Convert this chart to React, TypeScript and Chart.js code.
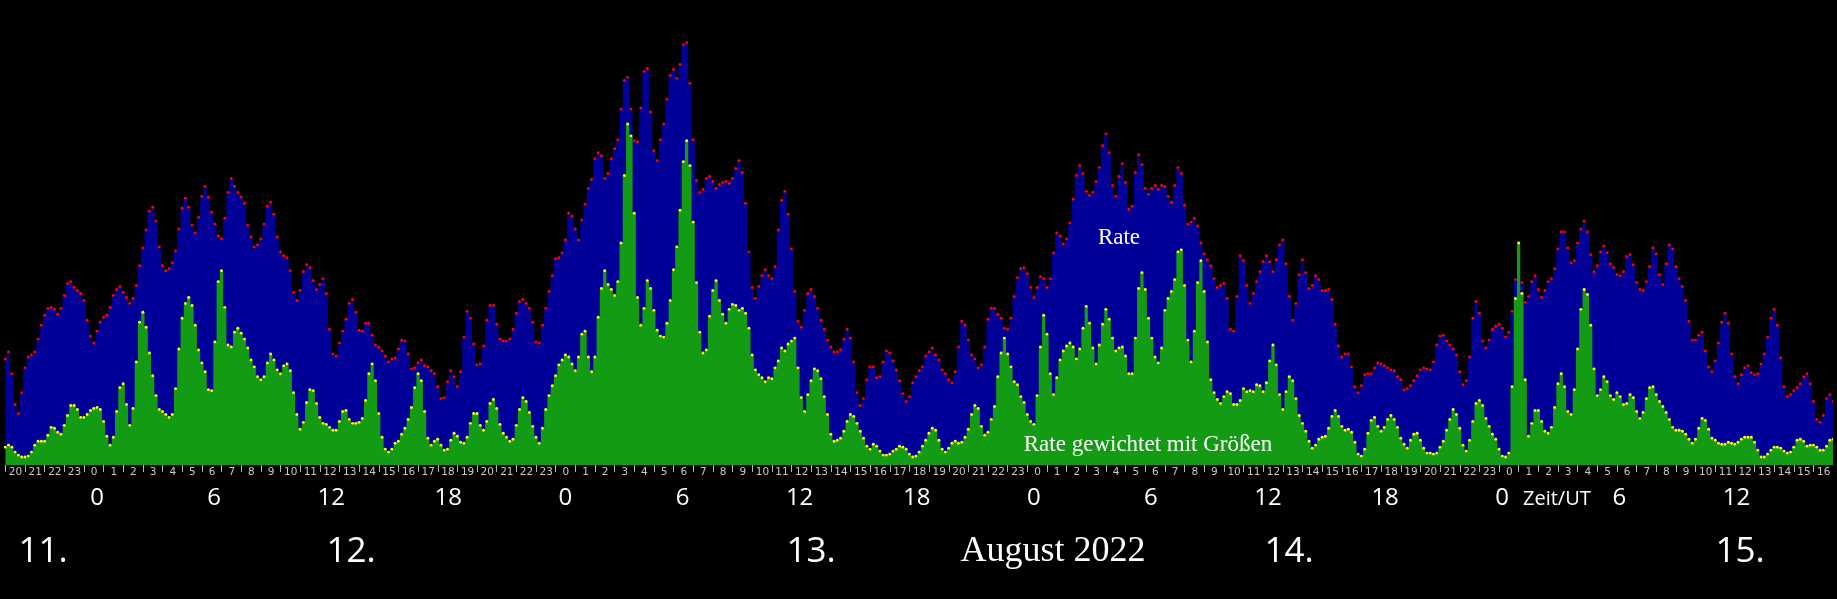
import React, { useEffect, useRef } from 'react';
import { Chart, registerables } from 'chart.js';

Chart.register(...registerables);

const W = 1837;
const H = 599;

// 10-minute bins starting 11 Aug 2022, 20:00 UT
const startHour = 20;
const binsPerHour = 6;

const rate = [
  107,114,92,61,52,73,98,109,111,114,
  127,141,151,158,159,157,152,158,171,183,
  185,179,176,173,166,146,130,123,135,144,
  149,151,159,171,177,180,174,169,163,168,
  181,201,219,237,256,260,246,220,201,196,
  198,204,216,238,259,269,260,242,234,250,
  271,281,270,255,243,231,228,249,275,289,
  281,275,270,264,242,230,220,222,228,243,
  261,265,253,230,215,211,209,196,174,166,
  176,195,202,199,186,177,182,188,173,137,
  112,110,123,135,147,163,167,154,136,135,
  143,143,131,121,119,115,110,104,107,108,
  117,126,125,112,97,98,103,106,100,99,
  95,92,79,67,68,84,95,89,79,94,
  129,155,148,122,101,102,120,146,161,161,
  142,127,125,125,127,137,153,165,167,163,
  158,144,124,123,141,158,175,191,208,209,
  214,227,254,251,238,227,247,263,279,288,
  309,315,312,289,294,309,319,328,359,388,
  391,359,327,326,360,397,400,356,317,307,
  328,344,369,393,399,390,404,424,426,385,
  328,287,275,278,289,291,286,279,283,285,
  286,284,289,299,307,295,264,215,179,168,
  180,191,197,191,188,200,237,267,276,253,
  218,175,145,139,156,173,177,170,158,146,
  137,126,119,114,114,116,127,137,128,104,
  73,60,67,86,99,99,88,89,104,115,
  113,105,96,85,72,64,69,83,89,95,
  99,110,114,118,111,106,96,92,86,83,
  94,119,145,141,126,111,107,98,101,119,
  147,158,158,152,148,138,137,148,170,189,
  198,199,193,179,169,179,190,188,179,188,
  214,234,231,223,228,244,268,292,302,294,
  276,272,275,286,300,322,334,315,282,271,
  291,304,285,258,261,295,313,303,279,273,
  279,282,278,282,281,271,265,282,300,294,
  262,243,245,249,241,224,213,207,201,188,
  179,181,183,168,137,135,170,211,206,181,
  163,173,185,195,205,211,205,195,207,222,
  227,203,170,146,163,192,207,194,178,181,
  191,187,176,176,177,167,142,120,109,112,
  112,99,79,73,80,91,92,92,98,103,
  102,100,98,96,95,89,86,76,77,80,
  85,90,96,98,97,96,104,121,130,131,
  125,121,117,111,94,81,85,109,148,165,
  153,125,118,126,137,140,142,138,129,134,
  155,187,198,184,164,170,185,191,177,169,
  176,185,188,198,218,235,235,219,204,206,
  224,238,246,235,212,195,201,215,221,214,
  203,199,192,191,195,210,212,202,184,177,
  176,185,200,219,213,192,182,203,222,218,
  200,188,180,166,145,126,126,131,134,115,
  99,94,105,123,144,153,143,112,89,82,
  91,98,100,93,91,92,102,112,129,148,
  157,141,108,79,69,71,75,78,82,89,
  92,82,64,46,43,50,67,71,64,
];

const weighted = [
  18,20,18,13,10,8,8,9,13,20,
  24,24,24,30,38,37,33,31,40,50,
  60,60,56,48,48,51,55,57,58,56,
  44,29,20,28,54,78,82,61,40,57,
  104,144,154,139,113,90,70,56,54,51,
  48,51,77,117,148,163,169,161,141,116,
  103,94,76,75,124,185,196,159,121,119,
  134,138,133,127,118,106,99,89,86,89,
  103,112,106,96,92,100,102,95,73,51,
  36,43,63,76,75,62,48,42,41,38,
  35,35,44,54,55,46,42,42,43,47,
  65,92,102,85,52,28,16,13,16,22,
  24,31,37,46,58,78,92,85,54,27,
  20,24,26,20,15,16,25,32,29,23,
  22,28,42,52,52,40,35,44,62,66,
  57,41,32,28,24,26,40,56,68,64,
  53,39,28,22,37,56,70,80,90,101,
  106,111,109,102,95,109,132,135,109,94,
  109,149,178,196,182,177,171,185,224,292,
  344,332,254,169,141,158,186,178,156,136,
  130,129,143,166,197,220,257,306,327,302,
  245,184,134,113,116,150,176,186,166,152,
  143,157,162,161,156,158,153,138,111,96,
  91,88,84,88,87,98,105,118,115,122,
  125,128,98,68,54,71,85,97,95,87,
  69,51,31,24,25,27,34,44,51,49,
  42,34,27,19,16,21,19,14,10,10,
  11,14,16,19,18,16,11,8,9,13,
  19,25,32,37,35,25,16,13,17,22,
  24,22,23,28,36,51,60,57,39,30,
  33,46,59,89,113,128,112,99,84,81,
  69,63,51,44,41,70,119,151,132,92,
  71,88,106,115,120,123,119,107,117,138,
  160,143,118,102,121,142,157,147,128,115,
  118,119,110,92,92,128,178,194,177,148,
  128,109,103,118,156,168,175,187,215,217,
  181,126,104,135,184,206,175,124,86,73,
  66,62,69,74,72,61,61,65,77,74,
  75,74,81,80,74,83,105,121,101,71,
  56,74,89,85,67,50,42,34,24,17,
  20,26,28,29,37,49,55,49,39,35,
  36,33,23,11,9,16,32,45,48,39,
  34,38,46,50,46,38,27,21,17,25,
  31,32,25,17,12,12,11,12,18,24,
  35,46,56,51,37,20,14,25,44,62,
  65,60,47,39,31,26,16,9,8,12,
  79,168,224,173,86,29,42,55,55,44,
  34,32,38,58,82,92,79,54,51,76,
  117,157,177,172,141,97,70,76,89,84,
  70,66,73,69,61,62,71,68,54,47,
  53,67,78,79,71,64,59,53,46,38,
  35,35,34,31,26,22,26,37,47,45,
  36,27,25,22,21,21,23,22,21,23,
  26,28,28,28,23,15,8,8,11,15,
  18,18,17,14,12,13,18,25,26,24,
  19,20,20,18,15,15,19,25,26,
];

const bigHourLabels = ['0', '6', '12', '18', '0', '6', '12', '18', '0', '6', '12', '18', '0', '6', '12'];
const dateLabels = ['11.', '12.', '13.', '14.', '15.'];
const monthLabel = 'August 2022';
const timeAxisTitle = 'Zeit/UT';
const rateLabel = 'Rate';
const weightedLabel = 'Rate gewichtet mit Größen';

// layout constants (pixels in the 1837 wide picture)
const BASE_Y = 465;
const BIG_X0 = 97;
const BIG_DX = 117.1;
const DATE_X = [43, 351, 811, 1289, 1740];

const textPlugin = {
  id: 'meteorText',
  afterDraw(chart: any) {
    const ctx = chart.ctx;
    const sx = chart.width / W;
    const sy = chart.height / H;
    ctx.save();
    ctx.fillStyle = '#ffffff';
    ctx.textBaseline = 'alphabetic';

    ctx.font = '24px "Open Sans"';
    ctx.textAlign = 'center';
    bigHourLabels.forEach((t, k) => {
      ctx.fillText(t, (BIG_X0 + BIG_DX * k) * sx, 505 * sy);
    });

    ctx.font = '20px "Open Sans"';
    ctx.textAlign = 'left';
    ctx.fillText(timeAxisTitle, 1523 * sx, 505 * sy);

    ctx.font = '35px "Open Sans"';
    ctx.textAlign = 'center';
    dateLabels.forEach((t, k) => {
      ctx.fillText(t, DATE_X[k] * sx, 562 * sy);
    });

    ctx.font = '36px "Liberation Serif"';
    ctx.textAlign = 'center';
    ctx.fillText(monthLabel, 1053 * sx, 561 * sy);

    ctx.font = '23px "Liberation Serif"';
    ctx.fillText(rateLabel, 1119 * sx, 244 * sy);
    ctx.fillText(weightedLabel, 1148 * sx, 451 * sy);
    ctx.restore();
  },
};

export default function App() {
  const ref = useRef<HTMLCanvasElement | null>(null);

  useEffect(() => {
    document.body.style.margin = '0';
    document.body.style.background = '#000';
    const canvas = ref.current;
    if (!canvas) return;

    const binPx = 3.29;
    const xMin = -1.3 / binPx;
    const xMax = xMin + W / binPx;
    const tickShift = 0.1;

    const rateData = rate.map((v, i) => ({ x: i, y: v }));
    const weightedData = weighted.map((v, i) => ({ x: i, y: v }));

    const chart = new Chart(canvas, {
      type: 'line',
      data: {
        datasets: [
          {
            label: weightedLabel,
            data: weightedData,
            stepped: 'middle',
            fill: 'origin',
            backgroundColor: '#139b13',
            borderColor: 'rgba(0,0,0,0)',
            borderWidth: 0,
            pointRadius: 1.45,
            pointBorderWidth: 0,
            pointBackgroundColor: '#ffff00',
          },
          {
            label: rateLabel,
            data: rateData,
            stepped: 'middle',
            fill: 'origin',
            backgroundColor: '#000099',
            borderColor: 'rgba(0,0,0,0)',
            borderWidth: 0,
            pointRadius: 1.45,
            pointBorderWidth: 0,
            pointBackgroundColor: '#ff0000',
          },
        ],
      },
      options: {
        responsive: false,
        animation: false,
        events: [],
        layout: { padding: 0 },
        plugins: {
          legend: { display: false },
          tooltip: { enabled: false },
          title: { display: false },
          filler: { drawTime: 'beforeDatasetDraw' },
        } as any,
        scales: {
          x: {
            type: 'linear',
            min: xMin,
            max: xMax,
            afterBuildTicks: (scale: any) => {
              const ticks = [];
              for (let h = 0; h * binsPerHour + tickShift <= xMax; h++) {
                ticks.push({ value: h * binsPerHour + tickShift });
              }
              scale.ticks = ticks;
            },
            afterFit: (scale: any) => {
              scale.height = H - BASE_Y;
            },
            ticks: {
              autoSkip: false,
              maxRotation: 0,
              minRotation: 0,
              labelOffset: 9.9,
              padding: -6,
              color: '#c8c8c8',
              font: { family: '"DejaVu Sans"', size: 10.5 },
              callback: (value: any) => {
                const h = Math.round((Number(value) - tickShift) / binsPerHour);
                return String((startHour + h) % 24);
              },
            },
            grid: {
              display: true,
              drawOnChartArea: false,
              drawTicks: true,
              tickLength: 7,
              color: '#b4b4b4',
              lineWidth: 1,
            },
            border: { display: false },
          },
          y: {
            display: false,
            min: 0,
            max: BASE_Y,
          },
        },
      },
      plugins: [textPlugin],
    });

    return () => {
      chart.destroy();
    };
  }, []);

  return (
    <div style={{ width: W, height: H, background: '#000' }}>
      <canvas ref={ref} width={W} height={H} style={{ display: 'block', width: W, height: H }} />
    </div>
  );
}
